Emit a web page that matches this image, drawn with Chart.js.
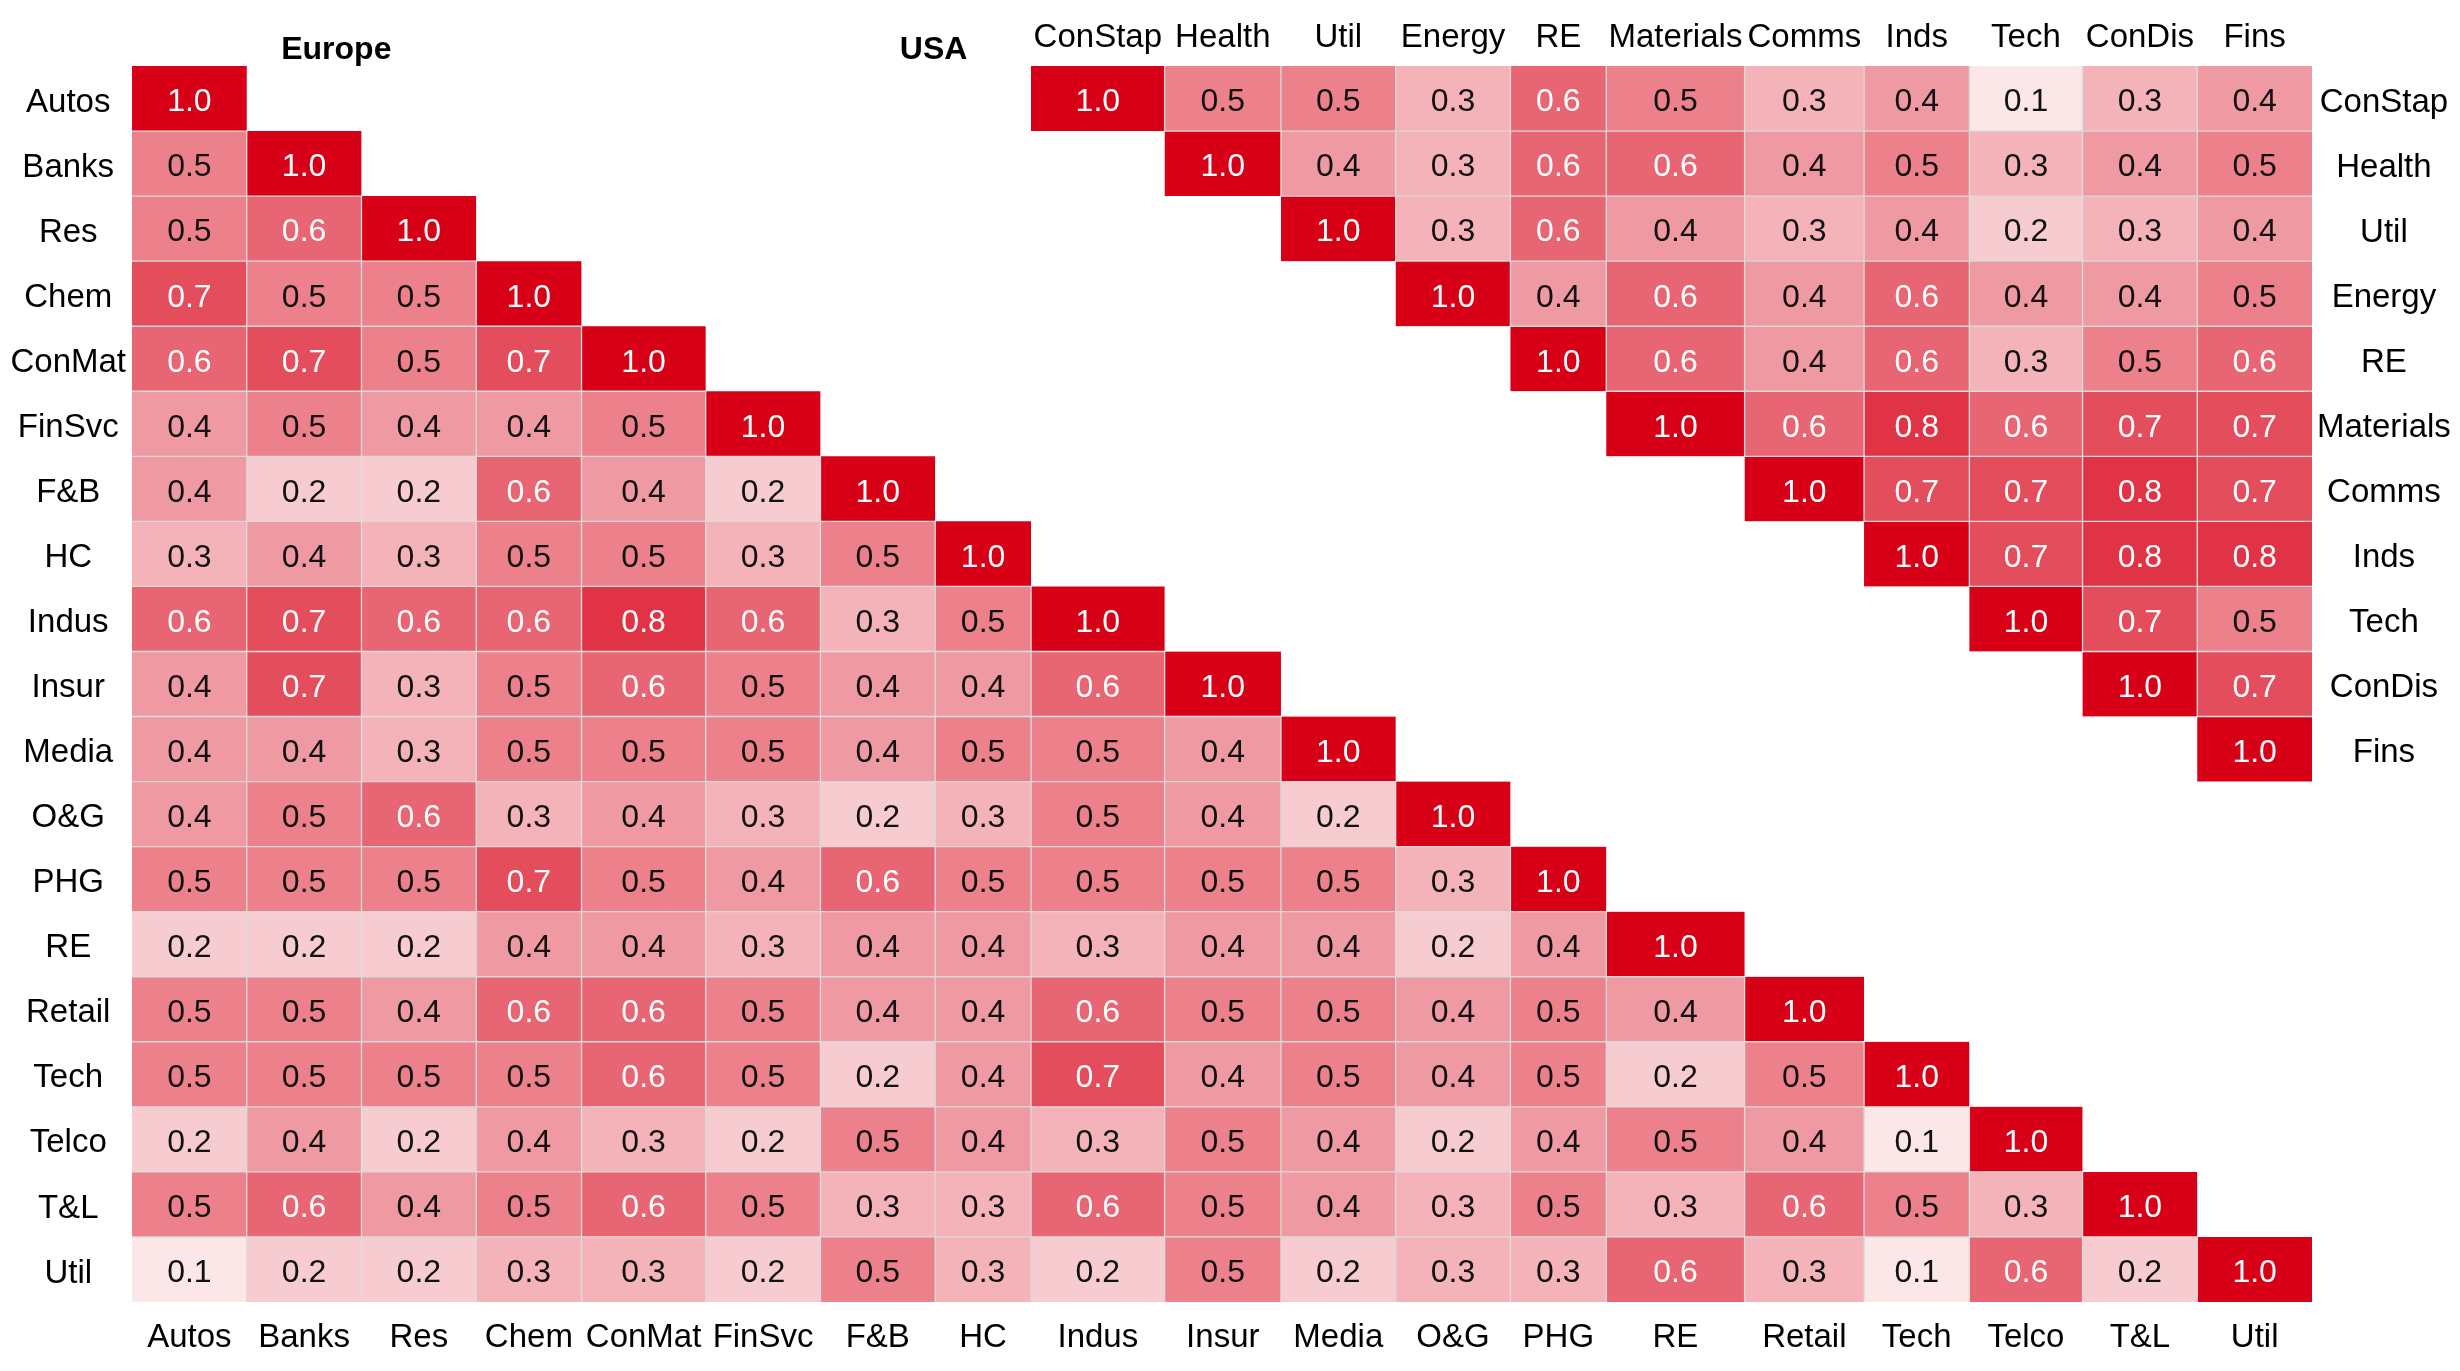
<!DOCTYPE html>
<html>
<head>
<meta charset="utf-8">
<script src="https://cdn.jsdelivr.net/npm/chart.js@4.4.1/dist/chart.umd.min.js"></script>
<style>
  html, body { margin: 0; padding: 0; background: #fff; }
  #wrap { width: 2460px; height: 1371px; position: relative; }
</style>
</head>
<body>
<div id="wrap"><canvas id="corrChart"></canvas></div>
<script>
// sector names
const euLabels = ['Autos', 'Banks', 'Res', 'Chem', 'ConMat', 'FinSvc', 'F&B', 'HC', 'Indus', 'Insur',
  'Media', 'O&G', 'PHG', 'RE', 'Retail', 'Tech', 'Telco', 'T&L', 'Util'];
const usLabels = ['ConStap', 'Health', 'Util', 'Energy', 'RE', 'Materials', 'Comms', 'Inds', 'Tech', 'ConDis', 'Fins'];

// Europe, lower triangle: row r holds columns 0..r
const euCorr = [
  [1.0],
  [0.5, 1.0],
  [0.5, 0.6, 1.0],
  [0.7, 0.5, 0.5, 1.0],
  [0.6, 0.7, 0.5, 0.7, 1.0],
  [0.4, 0.5, 0.4, 0.4, 0.5, 1.0],
  [0.4, 0.2, 0.2, 0.6, 0.4, 0.2, 1.0],
  [0.3, 0.4, 0.3, 0.5, 0.5, 0.3, 0.5, 1.0],
  [0.6, 0.7, 0.6, 0.6, 0.8, 0.6, 0.3, 0.5, 1.0],
  [0.4, 0.7, 0.3, 0.5, 0.6, 0.5, 0.4, 0.4, 0.6, 1.0],
  [0.4, 0.4, 0.3, 0.5, 0.5, 0.5, 0.4, 0.5, 0.5, 0.4, 1.0],
  [0.4, 0.5, 0.6, 0.3, 0.4, 0.3, 0.2, 0.3, 0.5, 0.4, 0.2, 1.0],
  [0.5, 0.5, 0.5, 0.7, 0.5, 0.4, 0.6, 0.5, 0.5, 0.5, 0.5, 0.3, 1.0],
  [0.2, 0.2, 0.2, 0.4, 0.4, 0.3, 0.4, 0.4, 0.3, 0.4, 0.4, 0.2, 0.4, 1.0],
  [0.5, 0.5, 0.4, 0.6, 0.6, 0.5, 0.4, 0.4, 0.6, 0.5, 0.5, 0.4, 0.5, 0.4, 1.0],
  [0.5, 0.5, 0.5, 0.5, 0.6, 0.5, 0.2, 0.4, 0.7, 0.4, 0.5, 0.4, 0.5, 0.2, 0.5, 1.0],
  [0.2, 0.4, 0.2, 0.4, 0.3, 0.2, 0.5, 0.4, 0.3, 0.5, 0.4, 0.2, 0.4, 0.5, 0.4, 0.1, 1.0],
  [0.5, 0.6, 0.4, 0.5, 0.6, 0.5, 0.3, 0.3, 0.6, 0.5, 0.4, 0.3, 0.5, 0.3, 0.6, 0.5, 0.3, 1.0],
  [0.1, 0.2, 0.2, 0.3, 0.3, 0.2, 0.5, 0.3, 0.2, 0.5, 0.2, 0.3, 0.3, 0.6, 0.3, 0.1, 0.6, 0.2, 1.0]
];

// USA, upper triangle: row i holds columns i..10
const usCorr = [
  [1.0, 0.5, 0.5, 0.3, 0.6, 0.5, 0.3, 0.4, 0.1, 0.3, 0.4],
  [1.0, 0.4, 0.3, 0.6, 0.6, 0.4, 0.5, 0.3, 0.4, 0.5],
  [1.0, 0.3, 0.6, 0.4, 0.3, 0.4, 0.2, 0.3, 0.4],
  [1.0, 0.4, 0.6, 0.4, 0.6, 0.4, 0.4, 0.5],
  [1.0, 0.6, 0.4, 0.6, 0.3, 0.5, 0.6],
  [1.0, 0.6, 0.8, 0.6, 0.7, 0.7],
  [1.0, 0.7, 0.7, 0.8, 0.7],
  [1.0, 0.7, 0.8, 0.8],
  [1.0, 0.7, 0.5],
  [1.0, 0.7],
  [1.0]
];

// layout: the sheet has uneven column widths, US block sits over the last 11 columns
const colWidths = [73, 73, 73, 67, 79, 73, 73, 61, 85, 74, 73, 73, 61, 88, 76, 67, 72, 73, 73];
const usColOffset = 8;

const labelFamily = "'Liberation Sans', Arial, sans-serif";
const gridGrey = '#d9d9d9';
const red = [216, 0, 22];

function shade(v) {
  const t = Math.max(0, Math.min(1, v));
  const c = red.map(k => Math.round(255 + (k - 255) * t));
  return `rgb(${c[0]}, ${c[1]}, ${c[2]})`;
}

const edges = [0];
colWidths.forEach(w => edges.push(edges[edges.length - 1] + w));
const totalW = edges[edges.length - 1];
const centers = colWidths.map((w, i) => edges[i] + w / 2);
const euCenters = centers;
const usCenters = centers.slice(usColOffset);

const nRows = euLabels.length;
const nUs = usLabels.length;

// one dataset per sheet column, each row a floating bar spanning the cell
const datasets = colWidths.map((w, c) => {
  const data = [], vals = [], bg = [], bw = [];
  for (let r = 0; r < nRows; r++) {
    let v = null, b = 0;
    if (c <= r) {
      v = euCorr[r][c];
      b = { top: c <= r - 1 ? 1 : 0, bottom: r < nRows - 1 ? 1 : 0, left: c > 0 ? 1 : 0, right: c < r ? 1 : 0 };
    } else {
      const j = c - usColOffset;
      if (j >= 0 && r < nUs && j >= r) {
        v = usCorr[r][j - r];
        b = { top: r > 0 ? 1 : 0, bottom: r < j ? 1 : 0, left: j > r ? 1 : 0, right: j < nUs - 1 ? 1 : 0 };
      }
    }
    data.push(v === null ? null : [edges[c], edges[c + 1]]);
    vals.push(v);
    bg.push(v === null ? 'rgba(0,0,0,0)' : shade(v));
    bw.push(b);
  }
  return {
    label: 'col' + c,
    data: data,
    vals: vals,
    backgroundColor: bg,
    borderColor: gridGrey,
    borderWidth: ctx => bw[ctx.dataIndex],
    borderSkipped: false,
    grouped: false,
    categoryPercentage: 1,
    barPercentage: 1
  };
});

const cellText = {
  id: 'cellText',
  afterDatasetsDraw(chart) {
    const ctx = chart.ctx;
    ctx.save();
    ctx.textAlign = 'center';
    ctx.textBaseline = 'middle';
    ctx.font = `32px ${labelFamily}`;
    chart.data.datasets.forEach((ds, i) => {
      chart.getDatasetMeta(i).data.forEach((bar, r) => {
        const v = ds.vals[r];
        if (v === null) return;
        const p = bar.getCenterPoint();
        ctx.fillStyle = v >= 0.55 ? '#ffffff' : '#111111';
        ctx.fillText(v.toFixed(1), p.x, p.y + 4);
      });
    });

    // block titles
    ctx.font = `bold 32px ${labelFamily}`;
    ctx.fillStyle = '#000';
    const xs = chart.scales.x;
    ctx.fillText('Europe', xs.getPixelForValue(130), chart.chartArea.top - 16);
    ctx.fillText('USA', xs.getPixelForValue(510), chart.chartArea.top - 16);
    ctx.restore();
  }
};

const tickFont = { family: labelFamily, size: 33 };

new Chart(document.getElementById('corrChart'), {
  type: 'bar',
  data: { labels: euLabels, datasets: datasets },
  options: {
    indexAxis: 'y',
    responsive: true,
    maintainAspectRatio: false,
    devicePixelRatio: 1,
    animation: false,
    layout: { padding: 0 },
    plugins: { legend: { display: false }, tooltip: { enabled: false } },
    scales: {
      x: {
        type: 'linear', position: 'bottom', min: 0, max: totalW,
        grid: { display: false, drawTicks: false }, border: { display: false },
        afterBuildTicks: s => { s.ticks = euCenters.map(v => ({ value: v })); },
        afterFit: s => { s.height = 69; },
        ticks: { autoSkip: false, maxRotation: 0, minRotation: 0, padding: 16, color: '#000', font: tickFont,
          callback: (val, i) => euLabels[i] }
      },
      x2: {
        type: 'linear', position: 'top', min: 0, max: totalW,
        grid: { display: false, drawTicks: false }, border: { display: false },
        afterBuildTicks: s => { s.ticks = usCenters.map(v => ({ value: v })); },
        afterFit: s => { s.height = 66; },
        ticks: { autoSkip: false, maxRotation: 0, minRotation: 0, padding: 8, color: '#000', font: tickFont,
          callback: (val, i) => usLabels[i] }
      },
      y: {
        type: 'category', position: 'left', offset: true,
        grid: { display: false, drawTicks: false }, border: { display: false },
        afterFit: s => { s.width = 132; },
        ticks: { crossAlign: 'center', padding: 6, labelOffset: 4, color: '#000', font: tickFont, autoSkip: false }
      },
      y2: {
        type: 'category', position: 'right', offset: true,
        labels: euLabels.map((l, i) => usLabels[i] || ''),
        grid: { display: false, drawTicks: false }, border: { display: false },
        afterFit: s => { s.width = 148; },
        ticks: { crossAlign: 'center', padding: 5, labelOffset: 4, color: '#000', font: tickFont, autoSkip: false }
      }
    }
  },
  plugins: [cellText]
});
</script>
</body>
</html>
